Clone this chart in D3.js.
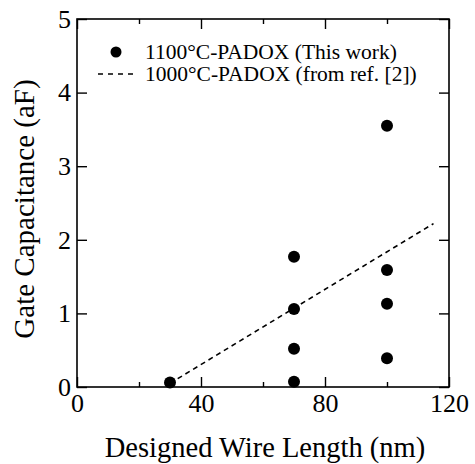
<!DOCTYPE html>
<html>
<head>
<meta charset="utf-8">
<script src="https://cdn.jsdelivr.net/npm/d3@7"></script>
<style>
  body { margin: 0; background: #fff; }
  svg text { font-family: "Liberation Serif", "Times New Roman", serif; fill: #000; }
</style>
</head>
<body>
<svg id="chart"></svg>
<script>
// measured points (this work)
const wireLength = [30, 70, 70, 70, 70, 100, 100, 100, 100];
const capacitance = [0.06, 1.77, 1.06, 0.52, 0.07, 3.55, 1.59, 1.13, 0.39];

// reference trend from ref. [2]
const refLength = [30, 115];
const refCap = [0.05, 2.22];

const xTicks = [0, 40, 80, 120];
const xMinor = [20, 60, 100];
const yTicks = [0, 1, 2, 3, 4, 5];

const legendLabels = ["1100\u00B0C-PADOX (This work)", "1000\u00B0C-PADOX (from ref. [2])"];

const width = 475, height = 464;
const margin = { top: 19, right: 26, bottom: 77, left: 77 };

const svg = d3.select("#chart")
    .attr("width", width)
    .attr("height", height);

const x = d3.scaleLinear().domain([0, 120]).range([margin.left, width - margin.right]);
const y = d3.scaleLinear().domain([0, 5]).range([height - margin.bottom, margin.top]);

const g = svg.append("g");

// frame
g.append("rect")
    .attr("x", x(0))
    .attr("y", y(5))
    .attr("width", x(120) - x(0))
    .attr("height", y(0) - y(5))
    .attr("fill", "none")
    .attr("stroke", "#000")
    .attr("stroke-width", 1.6);

// bottom axis, ticks pointing in
const xAxis = g.append("g")
    .attr("transform", `translate(0,${y(0)})`)
    .call(d3.axisBottom(x).tickValues(xTicks).tickSize(-10).tickPadding(7).tickFormat(d3.format("d")));
xAxis.select(".domain").remove();
xAxis.selectAll("text").style("font-size", "26px");
xAxis.selectAll("line").attr("stroke-width", 1.4);

g.append("g")
    .attr("transform", `translate(0,${y(0)})`)
    .call(d3.axisBottom(x).tickValues(xMinor).tickSize(-5).tickFormat(""))
    .call(s => s.select(".domain").remove())
    .selectAll("line").attr("stroke-width", 1.4);

// top axis
g.append("g")
    .attr("transform", `translate(0,${y(5)})`)
    .call(d3.axisTop(x).tickValues(xTicks).tickSize(-10).tickFormat(""))
    .call(s => s.select(".domain").remove())
    .selectAll("line").attr("stroke-width", 1.4);
g.append("g")
    .attr("transform", `translate(0,${y(5)})`)
    .call(d3.axisTop(x).tickValues(xMinor).tickSize(-5).tickFormat(""))
    .call(s => s.select(".domain").remove())
    .selectAll("line").attr("stroke-width", 1.4);

// left axis
const yAxis = g.append("g")
    .attr("transform", `translate(${x(0)},0)`)
    .call(d3.axisLeft(y).tickValues(yTicks).tickSize(-10).tickPadding(6).tickFormat(d3.format("d")));
yAxis.select(".domain").remove();
yAxis.selectAll("text").style("font-size", "26px");
yAxis.selectAll("line").attr("stroke-width", 1.4);

// right axis
g.append("g")
    .attr("transform", `translate(${x(120)},0)`)
    .call(d3.axisRight(y).tickValues(yTicks).tickSize(-10).tickFormat(""))
    .call(s => s.select(".domain").remove())
    .selectAll("line").attr("stroke-width", 1.4);

// reference dashed line
const line = d3.line().x((d, i) => x(refLength[i])).y(d => y(d));
g.append("path")
    .datum(refCap)
    .attr("d", line)
    .attr("fill", "none")
    .attr("stroke", "#000")
    .attr("stroke-width", 1.6)
    .attr("stroke-dasharray", "5,4");

// points
g.selectAll("circle.pt")
    .data(capacitance)
    .enter()
    .append("circle")
    .attr("class", "pt")
    .attr("cx", (d, i) => x(wireLength[i]))
    .attr("cy", d => y(d))
    .attr("r", 6)
    .attr("fill", "#000");

// legend
const legend = g.append("g");
legend.append("circle")
    .attr("cx", 116).attr("cy", 52).attr("r", 5.5).attr("fill", "#000");
legend.append("line")
    .attr("x1", 98).attr("x2", 134).attr("y1", 74).attr("y2", 74)
    .attr("stroke", "#000").attr("stroke-width", 1.4)
    .attr("stroke-dasharray", "5,5");
legend.selectAll("text")
    .data(legendLabels)
    .enter()
    .append("text")
    .attr("x", 145)
    .attr("y", (d, i) => 59 + i * 22)
    .style("font-size", "21.5px")
    .text(d => d);

// axis titles
svg.append("text")
    .attr("x", (x(0) + x(120)) / 2 + 2)
    .attr("y", 457)
    .attr("text-anchor", "middle")
    .style("font-size", "28.5px")
    .text("Designed Wire Length (nm)");

svg.append("text")
    .attr("transform", `translate(34,209) rotate(-90)`)
    .attr("text-anchor", "middle")
    .style("font-size", "29px")
    .text("Gate Capacitance (aF)");
</script>
</body>
</html>
